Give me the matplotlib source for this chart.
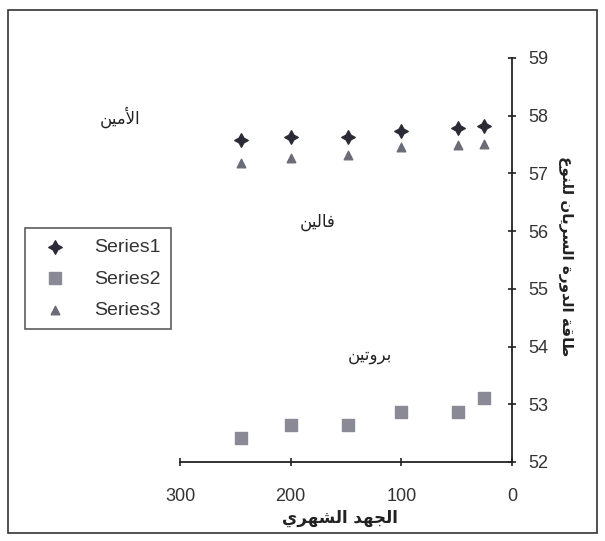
import matplotlib
matplotlib.use("Agg")
import matplotlib.pyplot as plt
from matplotlib.patches import Rectangle

# ---------------- data ----------------
effort = [245, 200, 148, 100, 49, 25]
series1 = [57.58, 57.63, 57.63, 57.73, 57.79, 57.82]
series2 = [52.42, 52.64, 52.64, 52.87, 52.87, 53.11]
series3 = [57.18, 57.27, 57.32, 57.46, 57.49, 57.51]
series_names = ["Series1", "Series2", "Series3"]
x_ticks = [300, 200, 100, 0]
y_ticks = [52, 53, 54, 55, 56, 57, 58, 59]
x_label = "الجهد الشهري"
y_label = "طاقة الدورة السريان للنوع"
note_amine = "الأمين"
note_valine = "فالين"
note_protein = "بروتين"

# ------------- minimal Arabic shaping (matplotlib has no shaping/bidi) -------------
FORMS = {
    "ا": ("\uFE8D", "\uFE8E"), "أ": ("\uFE83", "\uFE84"),
    "د": ("\uFEA9", "\uFEAA"), "ر": ("\uFEAD", "\uFEAE"),
    "و": ("\uFEED", "\uFEEE"), "ة": ("\uFE93", "\uFE94"),
    "ب": ("\uFE8F", "\uFE90", "\uFE91", "\uFE92"),
    "ت": ("\uFE95", "\uFE96", "\uFE97", "\uFE98"),
    "ج": ("\uFE9D", "\uFE9E", "\uFE9F", "\uFEA0"),
    "س": ("\uFEB1", "\uFEB2", "\uFEB3", "\uFEB4"),
    "ش": ("\uFEB5", "\uFEB6", "\uFEB7", "\uFEB8"),
    "ط": ("\uFEC1", "\uFEC2", "\uFEC3", "\uFEC4"),
    "ع": ("\uFEC9", "\uFECA", "\uFECB", "\uFECC"),
    "ف": ("\uFED1", "\uFED2", "\uFED3", "\uFED4"),
    "ق": ("\uFED5", "\uFED6", "\uFED7", "\uFED8"),
    "ل": ("\uFEDD", "\uFEDE", "\uFEDF", "\uFEE0"),
    "م": ("\uFEE1", "\uFEE2", "\uFEE3", "\uFEE4"),
    "ن": ("\uFEE5", "\uFEE6", "\uFEE7", "\uFEE8"),
    "ه": ("\uFEE9", "\uFEEA", "\uFEEB", "\uFEEC"),
    "ي": ("\uFEF1", "\uFEF2", "\uFEF3", "\uFEF4"),
}
LAM_ALEF = {"ا": ("\uFEFB", "\uFEFC"), "أ": ("\uFEF7", "\uFEF8")}


def shape(text):
    chars = list(text)
    out = []
    i = 0
    n = len(chars)
    while i < n:
        c = chars[i]
        if c not in FORMS:
            out.append(c)
            i += 1
            continue
        prev = chars[i - 1] if i > 0 else None
        joins_prev = prev in FORMS and len(FORMS[prev]) == 4
        if c == "ل" and i + 1 < n and chars[i + 1] in LAM_ALEF:
            iso, fin = LAM_ALEF[chars[i + 1]]
            out.append(fin if joins_prev else iso)
            i += 2
            continue
        nxt = chars[i + 1] if i + 1 < n else None
        joins_next = len(FORMS[c]) == 4 and nxt in FORMS
        f = FORMS[c]
        if joins_prev and joins_next:
            out.append(f[3])
        elif joins_prev:
            out.append(f[1])
        elif joins_next:
            out.append(f[2])
        else:
            out.append(f[0])
        i += 1
    return "".join(reversed(out))


plt.rcParams["font.family"] = ["Liberation Sans", "DejaVu Sans"]

W, H = 605, 541
fig = plt.figure(figsize=(W / 100, H / 100), dpi=100)
fig.patch.set_facecolor("white")
fig.patches.append(Rectangle((8 / W, 8 / H), 589 / W, 523 / H, transform=fig.transFigure,
                             fill=False, edgecolor="#333333", linewidth=1.2))

ax = fig.add_axes([180 / W, 1 - 462 / H, 332 / W, 404 / H])
ax.set_facecolor("none")

ax.scatter(effort, series1, marker=(4, 1, 0), s=95, color="#2b2b38", label=series_names[0], zorder=3)
ax.scatter(effort, series2, marker="s", s=80, color="#8a8a96", label=series_names[1], zorder=3)
ax.scatter(effort, series3, marker="^", s=38, color="#6c6c78", label=series_names[2], zorder=3)

ax.set_xlim(300, 0)
ax.set_ylim(52, 59)
ax.set_xticks(x_ticks)
ax.set_yticks(y_ticks)
for s in ["top", "left"]:
    ax.spines[s].set_visible(False)
for s in ["bottom", "right"]:
    ax.spines[s].set_linewidth(1.3)
    ax.spines[s].set_color("#222222")
ax.yaxis.tick_right()
ax.tick_params(axis="both", direction="inout", length=6, width=1.2, colors="#222222",
               labelsize=13, labelcolor="#333333")
ax.tick_params(axis="x", pad=16)
ax.tick_params(axis="y", pad=9)

fig.text(340 / W, 1 - 518 / H, shape(x_label), ha="center", va="center", fontsize=12,
         family=["DejaVu Sans"], color="#222222", fontweight="bold")
fig.text(566 / W, 1 - 256 / H, shape(y_label), ha="center", va="center", fontsize=11,
         rotation=-90, family=["DejaVu Sans"], color="#222222", fontweight="bold")
fig.text(120 / W, 1 - 117 / H, shape(note_amine), ha="center", va="center", fontsize=12,
         family=["DejaVu Sans"], color="#222222")
fig.text(318 / W, 1 - 222 / H, shape(note_valine), ha="center", va="center", fontsize=12,
         family=["DejaVu Sans"], color="#222222")
fig.text(370 / W, 1 - 355 / H, shape(note_protein), ha="center", va="center", fontsize=12,
         family=["DejaVu Sans"], color="#222222")

leg = ax.legend(loc="upper left", bbox_to_anchor=(25 / W, 1 - 228 / H),
                bbox_transform=fig.transFigure, fontsize=14, frameon=True, fancybox=False,
                edgecolor="#333333", borderpad=0.55, labelspacing=0.7, handletextpad=1.0,
                borderaxespad=0, scatterpoints=1)
leg.get_frame().set_linewidth(1.2)
for t in leg.get_texts():
    t.set_color("#333333")

fig.savefig("out.png", dpi=100, facecolor="white")
